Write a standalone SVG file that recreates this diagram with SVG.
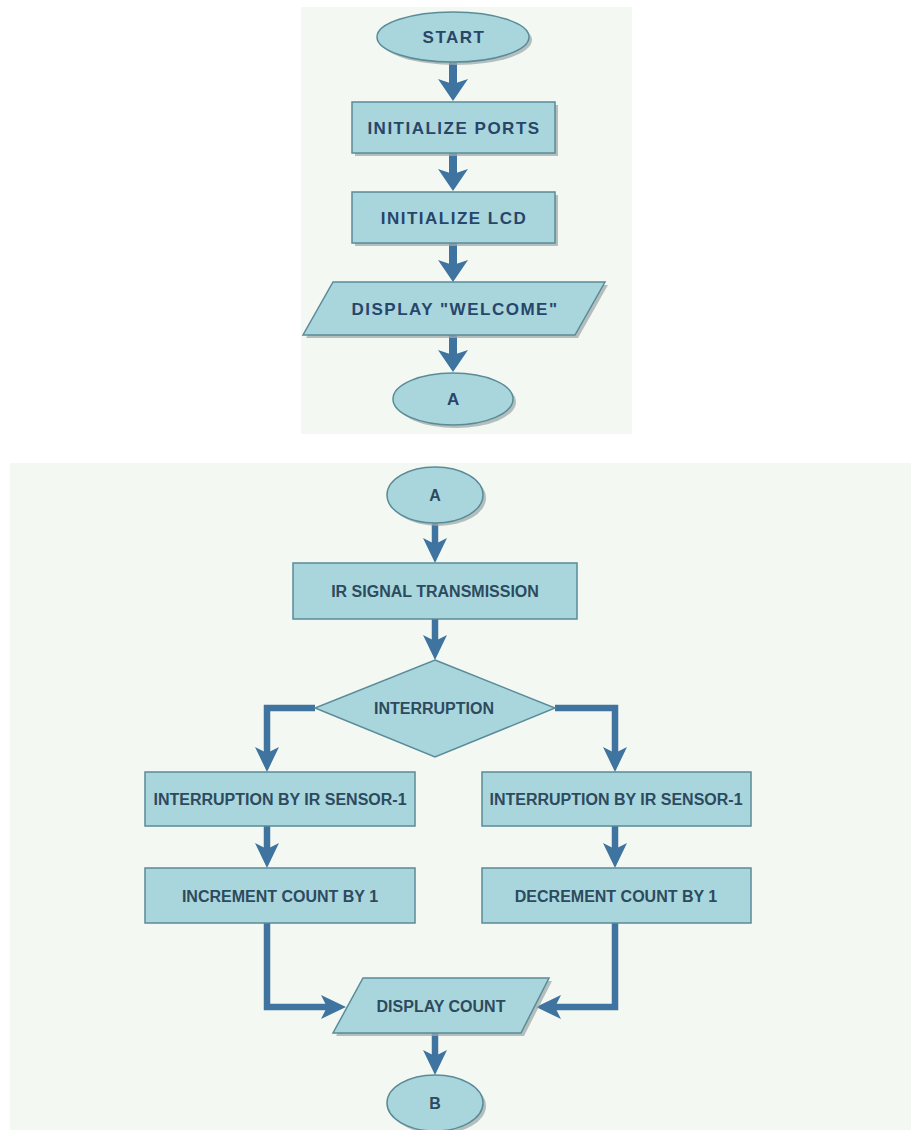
<svg xmlns="http://www.w3.org/2000/svg" width="911" height="1130" viewBox="0 0 911 1130">
<defs>
<style>
.bg{fill:#f3f9f2}
.n{fill:#a9d6dc;stroke:#5a8b98;stroke-width:1.5}
.sh{fill:#9fa9ab;opacity:.75}
.t1{font-family:"Liberation Sans",Arial,sans-serif;font-weight:bold;font-size:17px;letter-spacing:1.5px;fill:#27466a;text-anchor:middle}
.t2{font-family:"Liberation Sans",Arial,sans-serif;font-weight:bold;font-size:16px;fill:#2d4a5e;text-anchor:middle}
.c1{fill:none;stroke:#3f73a0;stroke-width:8;marker-end:url(#h1)}
.c2{fill:none;stroke:#3f73a0;stroke-width:6.5;marker-end:url(#h2)}
</style>
<marker id="h1" viewBox="0 0 22 30" refX="10" refY="15" markerWidth="22" markerHeight="30" markerUnits="userSpaceOnUse" orient="auto">
<path d="M0,0 L22,15 L0,30 L5,15 Z" fill="#3f73a0"/>
</marker>
<marker id="h2" viewBox="0 0 25 24" refX="12" refY="12" markerWidth="25" markerHeight="24" markerUnits="userSpaceOnUse" orient="auto">
<path d="M0,0 L25,12 L0,24 L6,12 Z" fill="#3f73a0"/>
</marker>
</defs>
<rect class="bg" x="301" y="7" width="331" height="427"/>
<rect class="bg" x="10" y="463" width="901" height="667"/>

<g id="connectors">
<path class="c1" d="M453,62 V89"/>
<path class="c1" d="M453,153 V179"/>
<path class="c1" d="M453,243 V270"/>
<path class="c1" d="M453,335 V360"/>
<path class="c2" d="M435,523 V550"/>
<path class="c2" d="M435,619 V647"/>
<path class="c2" d="M315,708 H267 V759"/>
<path class="c2" d="M555,708 H615 V759"/>
<path class="c2" d="M267,826 V855"/>
<path class="c2" d="M615,826 V855"/>
<path class="c2" d="M267,923 V1007 H333"/>
<path class="c2" d="M615,923 V1007 H549"/>
<path class="c2" d="M435,1033 V1062"/>
</g>

<g id="start">
<ellipse class="sh" cx="456" cy="40" rx="76" ry="25"/>
<ellipse class="n" cx="453" cy="37" rx="76" ry="25"/>
<text class="t1" x="454" y="43">START</text>
</g>
<g id="init-ports">
<rect class="sh" x="355" y="105" width="203" height="51"/>
<rect class="n" x="352" y="102" width="203" height="51"/>
<text class="t1" x="454" y="133.5">INITIALIZE PORTS</text>
</g>
<g id="init-lcd">
<rect class="sh" x="355" y="195" width="203" height="51"/>
<rect class="n" x="352" y="192" width="203" height="51"/>
<text class="t1" x="454" y="223.5">INITIALIZE LCD</text>
</g>
<g id="display-welcome">
<polygon class="sh" points="336,285 608,285 578,338 306,338"/>
<polygon class="n" points="333,282 605,282 575,335 303,335"/>
<text class="t1" x="455" y="314.5">DISPLAY "WELCOME"</text>
</g>
<g id="connector-a-top">
<ellipse class="sh" cx="456" cy="402" rx="60" ry="26"/>
<ellipse class="n" cx="453" cy="399" rx="60" ry="26"/>
<text class="t1" x="454" y="405">A</text>
</g>

<g id="connector-a">
<ellipse class="sh" cx="438" cy="498" rx="48" ry="28"/>
<ellipse class="n" cx="435" cy="495" rx="48" ry="28"/>
<text class="t2" x="435" y="501">A</text>
</g>
<g id="ir-signal">
<rect class="n" x="293" y="563" width="284" height="56"/>
<text class="t2" x="435" y="597">IR SIGNAL TRANSMISSION</text>
</g>
<g id="interruption">
<polygon class="n" points="435,660 555,708 435,757 315,708"/>
<text class="t2" x="434" y="714">INTERRUPTION</text>
</g>
<g id="sensor-left">
<rect class="n" x="145" y="772" width="270" height="54"/>
<text class="t2" x="280" y="805">INTERRUPTION BY IR SENSOR-1</text>
</g>
<g id="sensor-right">
<rect class="n" x="482" y="772" width="269" height="54"/>
<text class="t2" x="616" y="805">INTERRUPTION BY IR SENSOR-1</text>
</g>
<g id="increment">
<rect class="n" x="145" y="868" width="270" height="55"/>
<text class="t2" x="280" y="901.5">INCREMENT COUNT BY 1</text>
</g>
<g id="decrement">
<rect class="n" x="482" y="868" width="269" height="55"/>
<text class="t2" x="616" y="901.5">DECREMENT COUNT BY 1</text>
</g>
<g id="display-count">
<polygon class="sh" points="366,981 552,981 524,1036 336,1036"/>
<polygon class="n" points="363,978 549,978 521,1033 333,1033"/>
<text class="t2" x="441" y="1011.5">DISPLAY COUNT</text>
</g>
<g id="connector-b">
<ellipse class="sh" cx="438" cy="1106" rx="48" ry="28"/>
<ellipse class="n" cx="435" cy="1103" rx="48" ry="28"/>
<text class="t2" x="435" y="1109">B</text>
</g>
</svg>
